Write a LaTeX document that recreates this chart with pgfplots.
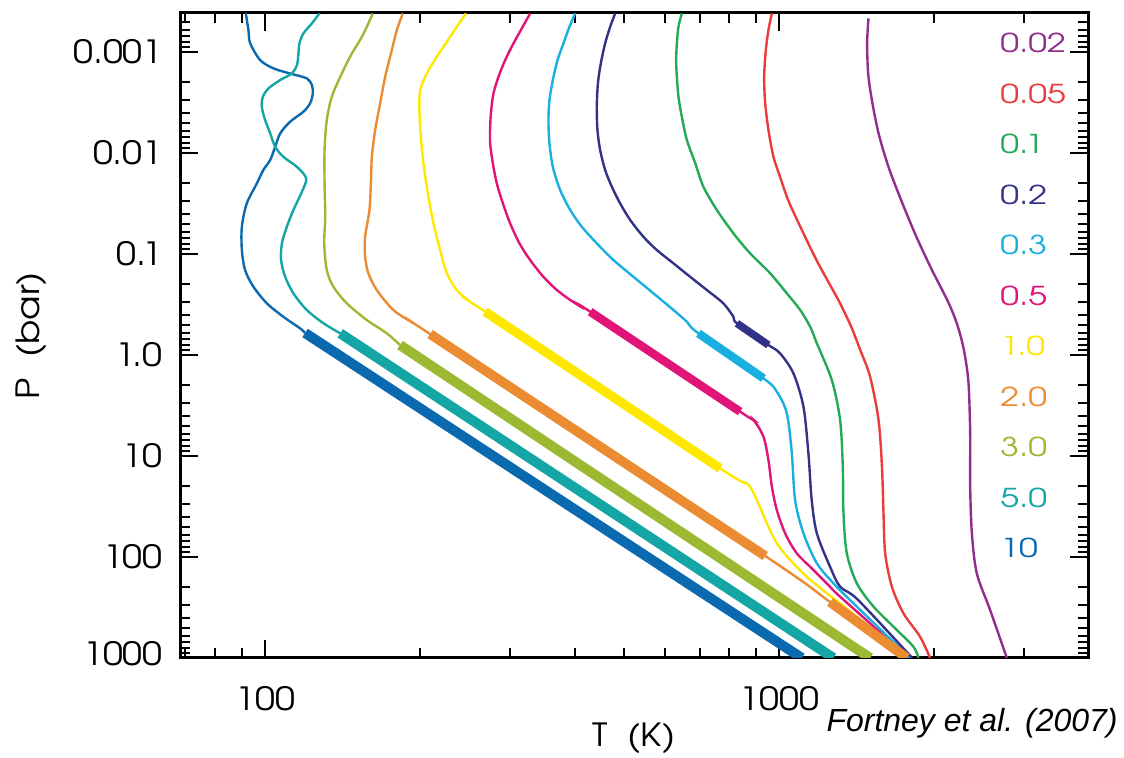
\documentclass[border=0pt]{standalone}
\usepackage{pgfplots}
\pgfplotsset{compat=1.18}
\usepackage{fontspec}
\setmainfont{texgyreadventor-regular.otf}
\newfontfamily\tickfont{texgyreadventor-regular.otf}[FakeStretch=1.12]
\newfontfamily\legfont{texgyreadventor-regular.otf}[FakeStretch=1.3]
\newfontfamily\helv{Liberation Sans}
\definecolor{cA}{RGB}{10,105,175}   % 10
\definecolor{cB}{RGB}{20,165,165}   % 5.0
\definecolor{cC}{RGB}{155,185,50}   % 3.0
\definecolor{cD}{RGB}{235,140,50}   % 2.0
\definecolor{cE}{RGB}{255,232,0}    % 1.0
\definecolor{cF}{RGB}{225,20,120}   % 0.5
\definecolor{cG}{RGB}{25,175,225}   % 0.3
\definecolor{cH}{RGB}{50,50,135}    % 0.2
\definecolor{cI}{RGB}{35,170,85}    % 0.1
\definecolor{cJ}{RGB}{235,60,60}    % 0.05
\definecolor{cK}{RGB}{145,45,140}   % 0.02
\pgfplotsset{thinl/.style={line width=1.2pt, smooth, tension=0.5, mark=none},
             thickl/.style={line width=#1, mark=none}, thickl/.default=4.6pt}
\begin{document}
\begin{tikzpicture}
\begin{axis}[
  scale only axis, width=454pt, height=322.5pt,
  xmode=log, ymode=log, y dir=reverse,
  xmin=68.3, xmax=3990, ymin=4.1e-4, ymax=1000,
  axis line style={line width=1.5pt},
  xtick={100,1000}, xticklabels={100,1000},
  ytick={0.001,0.01,0.1,1,10,100,1000},
  yticklabels={0.001,0.01,0.1,1.0,10,100,\raisebox{5pt}{1000}},
  minor xtick={70,80,90,200,300,400,500,600,700,800,900,2000,3000},
  minor ytick={0.0005,0.0006,0.0007,0.0008,0.0009,0.002,0.003,0.004,0.005,0.006,0.007,0.008,0.009,0.02,0.03,0.04,0.05,0.06,0.07,0.08,0.09,0.2,0.3,0.4,0.5,0.6,0.7,0.8,0.9,2,3,4,5,6,7,8,9,20,30,40,50,60,70,80,90,200,300,400,500,600,700,800,900},
  major tick length=9pt, minor tick length=5pt,
  every tick/.style={black, line width=1pt},
  tick align=inside,
  ticklabel style={font=\tickfont\fontsize{16}{16}\selectfont},
  /pgf/number format/assume math mode=true,
  xticklabel style={inner sep=0pt, yshift=-14pt},
  yticklabel style={inner sep=0pt, xshift=-8.5pt},
  xlabel={T~~(K)}, ylabel={P~~(bar)},
  label style={font=\tickfont\fontsize{16}{16}\selectfont},
  x label style={at={(axis description cs:0.5,-0.124)}, anchor=center},
  y label style={at={(axis description cs:-0.1641,0.5)}, anchor=center},
  clip=true,
]
% 10
\addplot[cA, thinl] coordinates {(91.7,4.14e-4) (92.8,6.05e-4) (93.5,8.15e-4) (97.8,1.2e-3) (103.8,1.45e-3) (111.8,1.63e-3) (120.5,1.82e-3) (123.3,2.12e-3) (123.8,2.57e-3) (122.3,3.22e-3) (118.7,3.9e-3) (111.8,4.9e-3) (107,6.38e-3) (104.6,8.67e-3) (102.3,0.0117) (99.2,0.0147) (96.4,0.0199) (92.1,0.0315) (90.1,0.0537) (90.1,0.0912) (91.4,0.144) (94.9,0.211) (100.8,0.308) (108.5,0.418) (117,0.545) (119.6,0.605)};
% 5.0
\addplot[cB, thinl] coordinates {(127.5,4.14e-4) (123.3,5.2e-4) (118.7,6.53e-4) (116.6,8.2e-4) (116.1,1.03e-3) (115.3,1.35e-3) (112.7,1.63e-3) (107,1.89e-3) (101.5,2.29e-3) (99,2.77e-3) (98.5,3.48e-3) (100,4.71e-3) (102.3,6.38e-3) (104.6,8.67e-3) (108.5,0.0109) (115.3,0.0137) (120.2,0.0178) (117.9,0.0242) (113.5,0.0366) (110.2,0.0537) (107.8,0.0783) (107.4,0.1146) (109.4,0.168) (113.5,0.245) (120.5,0.358) (129.9,0.485) (140,0.61)};
% 3.0
\addplot[cC, thinl] coordinates {(162,4.14e-4) (157.7,5.62e-4) (153,7.6e-4) (146.3,1.11e-3) (140,1.76e-3) (134.8,2.77e-3) (131.8,4.71e-3) (130.5,9.33e-3) (130.5,0.02) (130.9,0.0428) (130.3,0.0783) (131.8,0.144) (135.8,0.211) (144.2,0.308) (157.7,0.45) (172.5,0.61) (183,0.796)};
% 2.0
\addplot[cD, thinl] coordinates {(185.3,4.14e-4) (180.4,6.05e-4) (176.4,9.55e-4) (171.2,1.76e-3) (167.4,3.22e-3) (163.7,5.92e-3) (161.3,0.0109) (160.6,0.02) (159.6,0.0366) (156.5,0.0675) (156.5,0.1064) (158.8,0.155) (164.9,0.227) (177.6,0.358) (194.3,0.485) (209.4,0.62) (939.4,97.7) (1256,279) (1772,1000)};
% 1.0
\addplot[cE, thinl] coordinates {(246,4.14e-4) (236,5.62e-4) (225.7,7.91e-4) (215.8,1.11e-3) (206.3,1.63e-3) (200.3,2.38e-3) (199.6,3.75e-3) (200.9,6.9e-3) (203.2,0.0126) (207.8,0.0271) (212.6,0.0497) (219,0.0912) (225.7,0.155) (236,0.227) (250.5,0.296) (267.9,0.372) (767.6,13.24) (865.3,18.6) (904.9,27.3) (946.4,46.3) (989.7,73.1) (1051,107) (1132,156.7) (1238,228.6) (1326,298.6) (1782,1000)};
% 0.5
\addplot[cF, thinl] coordinates {(327.8,4.14e-4) (315.8,5.82e-4) (304.2,8.2e-4) (293.1,1.2e-3) (284.4,1.76e-3) (278.1,2.57e-3) (275.3,3.75e-3) (274,5.5e-3) (274,8.02e-3) (277.3,0.0126) (282.3,0.02) (290.1,0.0315) (299.7,0.0497) (312.4,0.0783) (327.8,0.1146) (347.8,0.168) (369.4,0.227) (392.2,0.285) (416.3,0.345) (428.9,0.372) (839.7,3.64) (891.3,4.41) (932.2,6.44) (953.2,11) (967.8,20.1) (989.7,34.3) (1027.3,58.3) (1082,91.8) (1166,134.5) (1256,196.8) (1314,247) (1790,1000)};
% 0.3
\addplot[cG, thinl] coordinates {(401,4.14e-4) (390.9,5.62e-4) (380.5,8.2e-4) (370.5,1.2e-3) (362.9,1.89e-3) (357.4,2.99e-3) (355.8,4.71e-3) (357.4,8.02e-3) (362.9,0.0137) (374.9,0.0232) (392.2,0.0366) (413.1,0.0537) (441.8,0.0783) (476,0.1146) (520.6,0.168) (569.4,0.245) (622.8,0.358) (661.5,0.468) (696.6,0.61) (932.2,1.7) (989.7,2.31) (1035,3.78) (1058.5,9.4) (1074,27.3) (1115,58.3) (1184,115.4) (1275,182) (1374,267) (1798,1000)};
% 0.2
\addplot[cH, thinl] coordinates {(479.7,4.14e-4) (469.1,5.62e-4) (458.6,8.2e-4) (449.9,1.29e-3) (444,2.04e-3) (441.8,3.48e-3) (443.1,5.92e-3) (448.5,9.33e-3) (458.6,0.0147) (472.7,0.0216) (490.5,0.0315) (513.1,0.046) (544.5,0.0675) (578.1,0.0912) (622.8,0.1236) (671.3,0.168) (723.3,0.227) (779,0.308) (814.9,0.418) (827.4,0.485) (953.2,0.796) (1004,0.962) (1066,1.52) (1115,3.25) (1140,9.4) (1157,27.3) (1184,58.3) (1256,124.8) (1314,196.8) (1425,267) (1815,1000)};
% 0.1
\addplot[cI, thinl] coordinates {(646.7,4.14e-4) (637,5.62e-4) (632.4,8.2e-4) (630.4,1.2e-3) (632.4,1.76e-3) (637,2.77e-3) (646.7,4.38e-3) (661.5,7.43e-3) (686.6,0.0126) (712.4,0.0216) (756.5,0.0366) (814.9,0.0624) (878.2,0.0984) (960.5,0.155) (1035,0.245) (1099,0.358) (1149,0.525) (1184,0.766) (1266,1.77) (1314,4.41) (1330,12.8) (1334,36.9) (1354,91.8) (1416,182) (1526,310) (1669,490) (1825,773) (1866,1000)};
% 0.05
\addplot[cJ, thinl] coordinates {(967.8,4.14e-4) (953.2,6.05e-4) (942.1,9.55e-4) (935,1.76e-3) (939.4,3.22e-3) (953.2,5.92e-3) (974.9,0.0109) (1004,0.0172) (1041,0.0292) (1084,0.046) (1139,0.0783) (1191,0.1236) (1251,0.195) (1314,0.308) (1381,0.525) (1438,0.892) (1503,1.64) (1561,4.41) (1585,12.8) (1596,36.9) (1608,91.8) (1657,196.8) (1745,360.6) (1880,615) (1967,1000)};
% 0.02
\addplot[cK, thinl] coordinates {(1492,4.63e-4) (1483,8.2e-4) (1490,1.63e-3) (1515,2.99e-3) (1561,6.38e-3) (1632,0.0137) (1727,0.0292) (1843,0.0648) (1975,0.138) (2123,0.285) (2205,0.45) (2265,0.71) (2306,1.12) (2337,1.99) (2353,5.96) (2353,20.1) (2371,58.3) (2424,145.3) (2573,335) (2773,1000)};
% thick (convective) segments
\addplot[cA, thickl=5pt] coordinates {(119.6,0.605) (1107,1000)};
\addplot[cB, thickl=5pt] coordinates {(140,0.61) (1275,1000)};
\addplot[cC, thickl=5pt] coordinates {(183,0.796) (1503,1000)};
\addplot[cD, thickl=4.8pt] coordinates {(209.4,0.62) (939.4,97.7)};
\addplot[cE, thickl=4.6pt] coordinates {(267.9,0.372) (767.6,13.24)};
\addplot[cF, thickl=4.2pt] coordinates {(428.9,0.372) (839.7,3.64)};
\addplot[cG, thickl=4.2pt] coordinates {(696.6,0.61) (932.2,1.7)};
\addplot[cH, thickl=3.8pt] coordinates {(827.4,0.485) (953.2,0.796)};
\addplot[cD, thickl=4.8pt] coordinates {(1256,279) (1772,1000)};
\end{axis}
\begin{scope}[shift={(current axis.south west)}]
\foreach \lab/\col [count=\i from 0] in {0.02/cK,0.05/cJ,0.1/cI,0.2/cH,0.3/cG,0.5/cF,1.0/cE,2.0/cD,3.0/cC,5.0/cB,10/cA}{
  \node[anchor=west, inner sep=0pt, text=\col, font=\legfont\fontsize{13}{13}\selectfont] at (410pt, 307.35pt-\i*25.25pt) {\lab};
}
\node[anchor=east, inner sep=0pt, font=\helv\itshape\fontsize{16}{16}\selectfont] at (469pt,-32.5pt) {Fortney et al. (2007)};
\pgfresetboundingbox
\path (-90pt,-50pt) rectangle (472pt,329pt);
\end{scope}
\end{tikzpicture}
\end{document}
